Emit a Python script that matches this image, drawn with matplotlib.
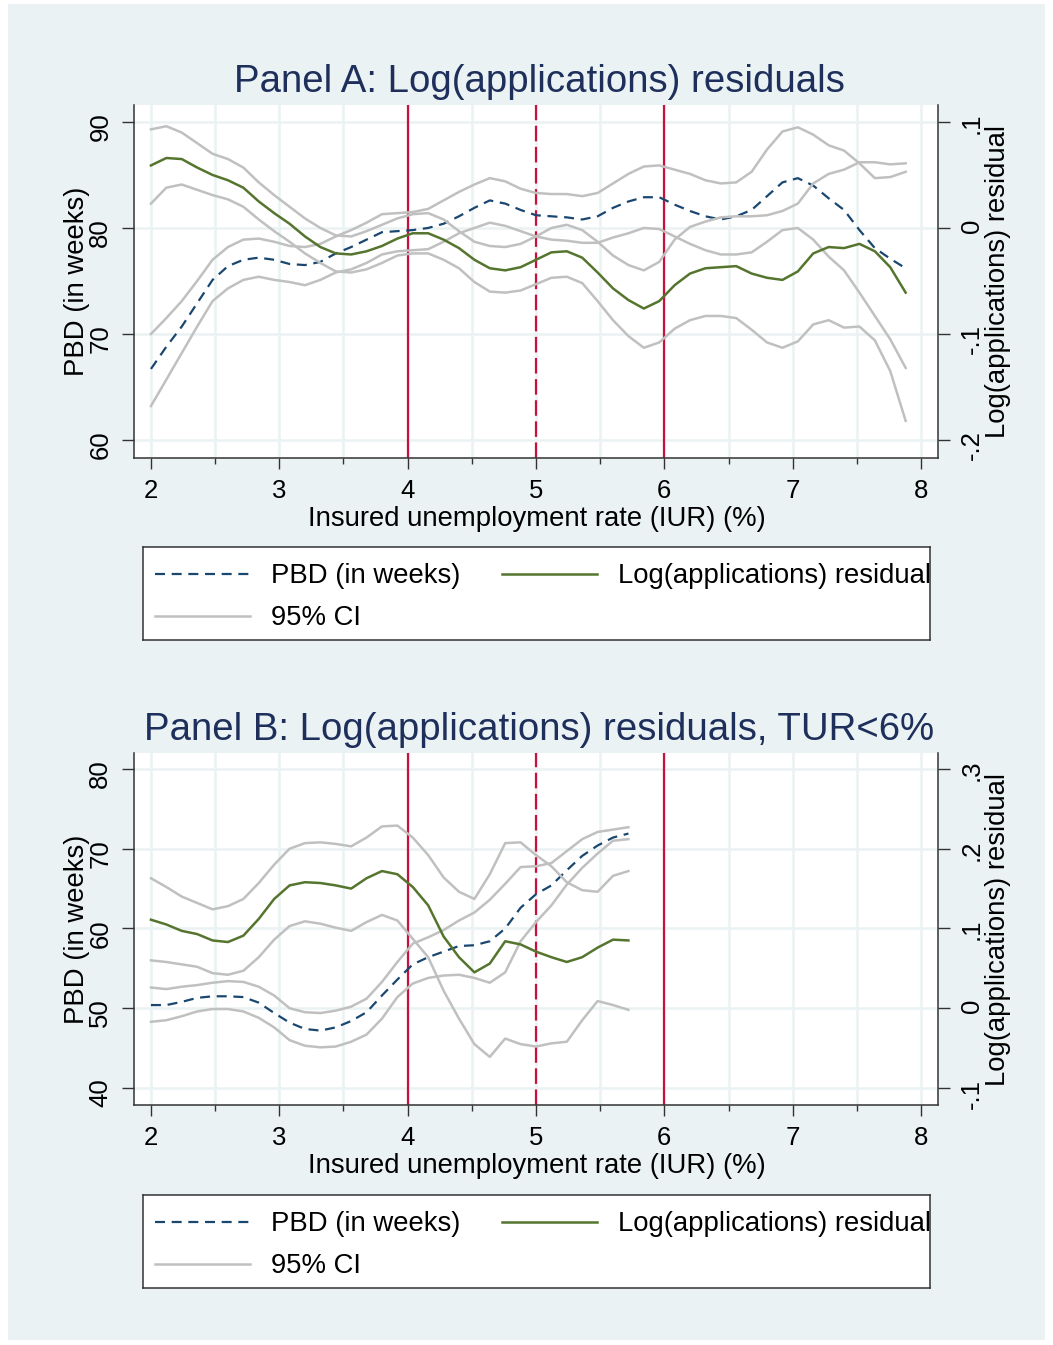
import matplotlib
matplotlib.use('Agg')
import matplotlib.pyplot as plt
from matplotlib.patches import Rectangle

plt.rcParams['font.family'] = ['Liberation Sans', 'DejaVu Sans']

# ---- data ----
iur_a = [2.00, 2.12, 2.24, 2.36, 2.48, 2.60, 2.72, 2.84, 2.96, 3.08,
         3.20, 3.32, 3.44, 3.56, 3.68, 3.80, 3.92, 4.04, 4.16, 4.28,
         4.40, 4.52, 4.64, 4.76, 4.88, 5.00, 5.12, 5.24, 5.36, 5.48,
         5.60, 5.72, 5.84, 5.96, 6.08, 6.20, 6.32, 6.44, 6.56, 6.68,
         6.80, 6.92, 7.04, 7.16, 7.28, 7.40, 7.52, 7.64, 7.76, 7.88]
pbd_a = [66.7, 68.8, 70.7, 72.9, 75.1, 76.4, 77.0, 77.2, 77.0, 76.6,
         76.5, 76.8, 77.6, 78.2, 78.9, 79.6, 79.7, 79.8, 80.0, 80.4,
         81.1, 81.9, 82.6, 82.3, 81.7, 81.2, 81.1, 81.0, 80.8, 81.1,
         81.9, 82.5, 82.9, 82.9, 82.2, 81.6, 81.1, 80.8, 81.1, 81.7,
         83.0, 84.3, 84.7, 84.0, 82.8, 81.7, 79.8, 78.1, 77.1, 76.2]
pbd_a_hi = [70.0, 71.5, 73.1, 75.0, 77.0, 78.2, 78.9, 79.0, 78.7, 78.3,
            78.2, 78.5, 79.2, 79.8, 80.5, 81.3, 81.4, 81.5, 81.8, 82.6,
            83.4, 84.1, 84.7, 84.4, 83.7, 83.3, 83.2, 83.2, 83.0, 83.3,
            84.2, 85.1, 85.8, 85.9, 85.5, 85.1, 84.5, 84.2, 84.3, 85.3,
            87.4, 89.1, 89.5, 88.8, 87.8, 87.3, 86.1, 84.7, 84.8, 85.3]
pbd_a_lo = [63.2, 65.7, 68.2, 70.7, 73.1, 74.3, 75.1, 75.4, 75.1, 74.9,
            74.6, 75.1, 75.8, 76.1, 76.7, 77.5, 77.8, 77.9, 78.0, 78.7,
            79.5, 80.0, 80.5, 80.2, 79.7, 79.2, 78.9, 78.8, 78.6, 78.6,
            79.1, 79.5, 80.0, 79.9, 79.2, 78.5, 77.9, 77.5, 77.5, 77.7,
            78.7, 79.8, 80.0, 78.9, 77.3, 76.0, 73.9, 71.7, 69.5, 66.8]
res_a = [0.059, 0.066, 0.065, 0.057, 0.050, 0.045, 0.038, 0.025, 0.014, 0.004,
         -0.008, -0.018, -0.024, -0.025, -0.022, -0.017, -0.010, -0.005, -0.005, -0.011,
         -0.019, -0.030, -0.038, -0.040, -0.037, -0.030, -0.023, -0.022, -0.028, -0.042,
         -0.057, -0.068, -0.076, -0.069, -0.054, -0.043, -0.038, -0.037, -0.036, -0.043,
         -0.047, -0.049, -0.041, -0.024, -0.018, -0.019, -0.015, -0.022, -0.037, -0.061]
res_a_hi = [0.093, 0.096, 0.090, 0.080, 0.070, 0.065, 0.057, 0.043, 0.031, 0.020,
            0.009, 0.000, -0.007, -0.008, -0.003, 0.003, 0.009, 0.013, 0.014, 0.008,
            -0.003, -0.013, -0.017, -0.018, -0.015, -0.008, 0.000, 0.003, -0.002, -0.013,
            -0.026, -0.035, -0.040, -0.032, -0.011, 0.001, 0.006, 0.010, 0.011, 0.011,
            0.012, 0.016, 0.023, 0.042, 0.051, 0.055, 0.062, 0.062, 0.060, 0.061]
res_a_lo = [0.023, 0.038, 0.041, 0.036, 0.031, 0.027, 0.020, 0.008, -0.003, -0.013,
            -0.024, -0.033, -0.041, -0.042, -0.039, -0.033, -0.026, -0.024, -0.024, -0.030,
            -0.038, -0.051, -0.060, -0.061, -0.059, -0.053, -0.047, -0.046, -0.052, -0.069,
            -0.087, -0.102, -0.113, -0.108, -0.095, -0.087, -0.083, -0.083, -0.085, -0.096,
            -0.108, -0.113, -0.107, -0.091, -0.087, -0.094, -0.093, -0.106, -0.135, -0.182]

iur_b = [2.00, 2.12, 2.24, 2.36, 2.48, 2.60, 2.72, 2.84, 2.96, 3.08,
         3.20, 3.32, 3.44, 3.56, 3.68, 3.80, 3.92, 4.04, 4.16, 4.28,
         4.40, 4.52, 4.64, 4.76, 4.88, 5.00, 5.12, 5.24, 5.36, 5.48,
         5.60, 5.72]
pbd_b = [50.4, 50.4, 50.8, 51.3, 51.5, 51.5, 51.4, 50.7, 49.4, 48.2,
         47.4, 47.2, 47.6, 48.4, 49.5, 51.6, 53.6, 55.5, 56.4, 57.1,
         57.8, 57.9, 58.4, 60.0, 62.6, 64.3, 65.4, 67.3, 69.1, 70.4,
         71.4, 71.9]
pbd_b_hi = [52.6, 52.4, 52.7, 52.9, 53.2, 53.4, 53.3, 52.7, 51.6, 50.0,
            49.5, 49.4, 49.7, 50.2, 51.2, 53.3, 55.8, 58.1, 58.9, 59.8,
            61.0, 62.0, 63.6, 65.6, 67.7, 67.8, 68.2, 69.7, 71.2, 72.1,
            72.4, 72.7]
pbd_b_lo = [48.3, 48.5, 49.0, 49.6, 49.9, 49.9, 49.6, 48.8, 47.6, 46.0,
            45.3, 45.1, 45.2, 45.8, 46.7, 48.7, 51.4, 53.1, 53.8, 54.1,
            54.2, 53.8, 53.2, 54.5, 58.4, 60.8, 62.9, 65.5, 67.6, 69.4,
            71.0, 71.2]
res_b = [0.111, 0.105, 0.097, 0.093, 0.085, 0.083, 0.091, 0.112, 0.137, 0.154,
         0.158, 0.157, 0.154, 0.150, 0.163, 0.172, 0.168, 0.152, 0.129, 0.090,
         0.064, 0.045, 0.056, 0.084, 0.080, 0.071, 0.064, 0.058, 0.064, 0.076,
         0.086, 0.085]
res_b_hi = [0.163, 0.152, 0.140, 0.132, 0.124, 0.128, 0.137, 0.157, 0.180, 0.200,
            0.207, 0.208, 0.206, 0.203, 0.214, 0.228, 0.229, 0.214, 0.192, 0.164,
            0.146, 0.137, 0.168, 0.207, 0.208, 0.192, 0.178, 0.158, 0.148, 0.146,
            0.166, 0.172]
res_b_lo = [0.060, 0.058, 0.055, 0.052, 0.044, 0.042, 0.047, 0.064, 0.086, 0.103,
            0.109, 0.106, 0.101, 0.097, 0.108, 0.117, 0.110, 0.087, 0.064, 0.022,
            -0.013, -0.045, -0.061, -0.038, -0.045, -0.048, -0.044, -0.042, -0.015, 0.009,
            0.004, -0.002]

x_ticks = [2, 3, 4, 5, 6, 7, 8]
x_minor = [2.5, 3.5, 4.5, 5.5, 6.5, 7.5]
cutoffs = [4, 5, 6]
pbd_ticks_a = [60, 70, 80, 90]
res_ticks_a = [-0.2, -0.1, 0.0, 0.1]
res_labels_a = ['-.2', '-.1', '0', '.1']
pbd_ticks_b = [40, 50, 60, 70, 80]
res_ticks_b = [-0.1, 0.0, 0.1, 0.2, 0.3]
res_labels_b = ['-.1', '0', '.1', '.2', '.3']

# ---- style ----
W, H = 1053, 1345
BG = '#eaf2f3'
NAVY = '#1a476f'
TITLE_C = '#1e2f5c'
GREEN = '#55752f'
RED = '#c8103c'
GREY = '#c0c0c0'
AXC = '#333333'
TICK_FS = 18.5
LAB_FS = 19.8
TITLE_FS = 27.6


def box(l, t, r, b):
    return [l / W, 1 - b / H, (r - l) / W, (b - t) / H]


def fx(px):
    return px / W


def fy(py):
    return 1 - py / H


fig = plt.figure(figsize=(W / 100, H / 100), dpi=100, facecolor='white')
fig.patches.append(Rectangle((8 / W, 1 - 1340 / H), 1037 / W, 1336 / H,
                             transform=fig.transFigure, facecolor=BG,
                             edgecolor='none', zorder=-10))


def panel(top, bottom, title, iur, pbd, pbd_lo, pbd_hi, res, res_lo, res_hi,
          pbd_lim, shift, pbd_ticks, res_ticks, res_labels, leg_top):
    ax = fig.add_axes(box(134, top, 938, bottom))
    ax.set_facecolor('white')
    ax.set_xlim(1.868, 8.132)
    ax.set_ylim(*pbd_lim)
    ax.set_xticks(x_ticks)
    ax.set_xticks(x_minor, minor=True)
    ax.set_yticks(pbd_ticks)
    ax.set_axisbelow(True)
    ax.grid(which='both', axis='x', color=BG, lw=1.8)
    ax.grid(which='major', axis='y', color=BG, lw=1.8)
    for s in ['top', 'right']:
        ax.spines[s].set_visible(False)
    for s in ['left', 'bottom']:
        ax.spines[s].set_color(AXC)
        ax.spines[s].set_linewidth(1.1)
    ax.tick_params(axis='y', length=8.6, width=1, color=AXC, labelsize=TICK_FS,
                   labelrotation=90, pad=7)
    ax.tick_params(axis='x', which='major', length=8, width=1, color=AXC,
                   labelsize=TICK_FS, pad=7)
    ax.tick_params(axis='x', which='minor', length=4.3, width=1, color=AXC)

    ax.axvline(cutoffs[0], color=RED, lw=1.6, zorder=1)
    ax.axvline(cutoffs[1], color=RED, lw=1.6, dashes=(7, 2.5), zorder=1)
    ax.axvline(cutoffs[2], color=RED, lw=1.6, zorder=1)

    ax.plot(iur, pbd_hi, color=GREY, lw=1.8, zorder=2)
    ax.plot(iur, pbd_lo, color=GREY, lw=1.8, zorder=2)
    ax.plot(iur, pbd, color=NAVY, lw=1.6, dashes=(4.5, 3), zorder=3)

    tw = ax.twinx()
    tw.set_ylim(pbd_lim[0] / 100 - shift, pbd_lim[1] / 100 - shift)
    tw.set_yticks(res_ticks)
    tw.set_yticklabels(res_labels)
    for s in ['top', 'left', 'bottom']:
        tw.spines[s].set_visible(False)
    tw.spines['right'].set_color(AXC)
    tw.spines['right'].set_linewidth(1.1)
    tw.tick_params(axis='y', length=8.6, width=1, color=AXC, labelsize=TICK_FS,
                   labelrotation=90, pad=7)
    tw.plot(iur, res_hi, color=GREY, lw=1.8, zorder=2)
    tw.plot(iur, res_lo, color=GREY, lw=1.8, zorder=2)
    tw.plot(iur, res, color=GREEN, lw=1.8, zorder=3)

    mid = (top + bottom) / 2
    fig.text(fx(539), fy(top - 23), title, color=TITLE_C, fontsize=TITLE_FS,
             ha='center', va='center')
    fig.text(fx(537), fy(bottom + 61), 'Insured unemployment rate (IUR) (%)',
             fontsize=LAB_FS, ha='center', va='center')
    fig.text(fx(77), fy(mid), 'PBD (in weeks)', fontsize=LAB_FS, rotation=90,
             ha='center', va='center')
    fig.text(fx(998), fy(mid), 'Log(applications) residual', fontsize=LAB_FS,
             rotation=90, ha='center', va='center')

    # legend box
    lg = fig.add_axes(box(143, leg_top, 930, leg_top + 93))
    lg.set_facecolor('white')
    lg.set_xlim(143, 930)
    lg.set_ylim(leg_top + 93, leg_top)
    lg.set_xticks([])
    lg.set_yticks([])
    for s in lg.spines.values():
        s.set_color(AXC)
        s.set_linewidth(1.1)
    r1, r2 = leg_top + 27, leg_top + 69
    lg.plot([155, 250], [r1, r1], color=NAVY, lw=1.6, dashes=(4.5, 3))
    lg.text(271, r1 + 2, 'PBD (in weeks)', fontsize=LAB_FS, va='center')
    lg.plot([502, 597], [r1, r1], color=GREEN, lw=1.8)
    lg.text(618, r1 + 2, 'Log(applications) residual', fontsize=LAB_FS,
            va='center', clip_on=True)
    lg.plot([155, 250], [r2, r2], color=GREY, lw=1.8)
    lg.text(271, r2 + 2, '95% CI', fontsize=LAB_FS, va='center')


panel(105, 458, 'Panel A: Log(applications) residuals', iur_a, pbd_a,
      pbd_a_lo, pbd_a_hi, res_a, res_a_lo, res_a_hi, (58.3, 91.6), 0.80,
      pbd_ticks_a, res_ticks_a, res_labels_a, 547)
panel(753, 1105, 'Panel B: Log(applications) residuals, TUR<6%', iur_b, pbd_b,
      pbd_b_lo, pbd_b_hi, res_b, res_b_lo, res_b_hi, (37.87, 82.0), 0.50,
      pbd_ticks_b, res_ticks_b, res_labels_b, 1195)

fig.savefig('out.png', dpi=100, facecolor='white')
